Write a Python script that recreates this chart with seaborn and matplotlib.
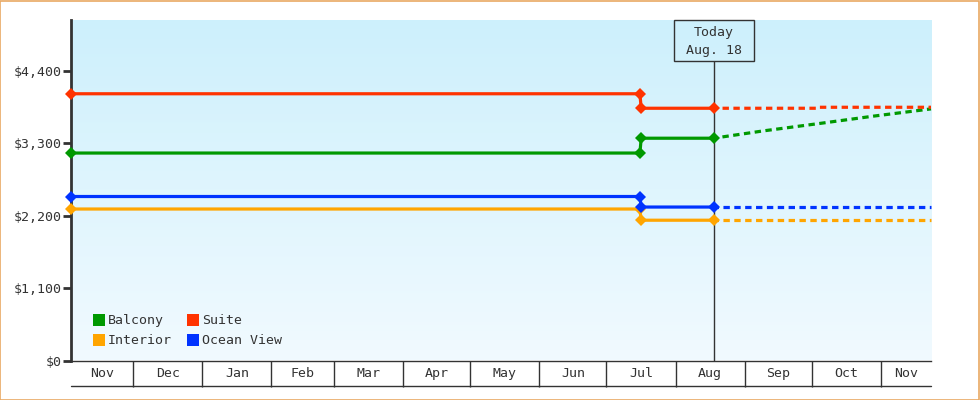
import numpy as np
import pandas as pd
import matplotlib
matplotlib.use("Agg")
import matplotlib.pyplot as plt
import matplotlib.dates as mdates
from matplotlib.lines import Line2D
from matplotlib.patches import Rectangle
import seaborn as sns

# ---------------- data ----------------
cabins = ["Balcony", "Interior", "Suite", "Ocean View"]
colors = ["#009900", "#ffa500", "#ff3300", "#0033ff"]

hist_dates = ["2024-11-03 05:00", "2025-07-16 00:00", "2025-07-16 14:00", "2025-08-18 00:00"]
hist_balcony = [3150, 3150, 3375, 3375]
hist_interior = [2300, 2300, 2130, 2130]
hist_suite = [4050, 4050, 3830, 3830]
hist_ocean = [2490, 2490, 2330, 2330]

fc_dates_balcony = ["2025-08-18 00:00", "2025-09-09 00:00", "2025-10-06 00:00", "2025-10-29 00:00", "2025-11-23 09:00"]
fc_balcony = [3375, 3485, 3606, 3712, 3820]
fc_dates_suite = ["2025-08-18 00:00", "2025-10-03 00:00", "2025-10-03 12:00", "2025-11-23 09:00"]
fc_suite = [3830, 3830, 3845, 3845]
fc_dates_flat = ["2025-08-18 00:00", "2025-11-23 09:00"]
fc_interior = [2130, 2130]
fc_ocean = [2330, 2330]

today = "2025-08-18"
today_label = "Today\nAug. 18"
x_start, x_end = "2024-11-03 05:00", "2025-11-23 09:00"
y_ticks = [0, 1100, 2200, 3300, 4400]
y_max = 5170


def to_dt(lst):
    return pd.to_datetime(lst, format="ISO8601")


# ---------------- frames ----------------
hist_vals = {"Balcony": hist_balcony, "Interior": hist_interior,
             "Suite": hist_suite, "Ocean View": hist_ocean}
hist = pd.concat([pd.DataFrame({"date": to_dt(hist_dates), "price": v, "cabin": k})
                  for k, v in hist_vals.items()], ignore_index=True)
fc = pd.concat([
    pd.DataFrame({"date": to_dt(fc_dates_balcony), "price": fc_balcony, "cabin": "Balcony"}),
    pd.DataFrame({"date": to_dt(fc_dates_flat), "price": fc_interior, "cabin": "Interior"}),
    pd.DataFrame({"date": to_dt(fc_dates_suite), "price": fc_suite, "cabin": "Suite"}),
    pd.DataFrame({"date": to_dt(fc_dates_flat), "price": fc_ocean, "cabin": "Ocean View"}),
], ignore_index=True)

palette = dict(zip(cabins, colors))

sns.set_theme(style="white")
plt.rcParams["font.family"] = ["DejaVu Sans Mono", "DejaVu Sans"]
TXT = "#333333"
FS = 9.5

fig = plt.figure(figsize=(9.8, 4.0), dpi=100)
ax = fig.add_axes([71 / 980, 1 - 360.5 / 400, 860 / 980, 340.5 / 400])

# gradient background
grad = np.linspace(0, 1, 256).reshape(-1, 1)
top = np.array([205, 240, 252]) / 255
bot = np.array([241, 250, 255]) / 255
img = top[None, None, :] * (1 - grad[:, :, None]) + bot[None, None, :] * grad[:, :, None]
ax.imshow(img, extent=[0, 1, 0, 1], transform=ax.transAxes, aspect="auto", zorder=0)

x0, x1 = pd.Timestamp(x_start), pd.Timestamp(x_end)
t = pd.Timestamp(today)
xn0, xn1, tn = mdates.date2num(x0), mdates.date2num(x1), mdates.date2num(t)
tfrac = (tn - xn0) / (xn1 - xn0)
box_h = 40.5 / 340.5
box_w = 80 / 860

# today line
ax.plot([tfrac, tfrac], [0, 1 - box_h], transform=ax.transAxes, color=TXT, lw=1, zorder=1)

lw = 2.3
sns.lineplot(data=fc, x="date", y="price", hue="cabin", hue_order=cabins, palette=palette,
             linewidth=lw, linestyle=(0.6, (2.0, 1.4)), legend=False, ax=ax, zorder=2,
             estimator=None, sort=True)
sns.lineplot(data=hist, x="date", y="price", hue="cabin", hue_order=cabins, palette=palette,
             linewidth=lw, marker="D", markersize=5.8, markeredgewidth=0, legend=False, ax=ax,
             zorder=3, estimator=None, sort=True)
for ln in ax.lines:
    ln.set_clip_on(False)
    ln.set_solid_capstyle("butt")
    ln.set_dash_capstyle("butt")

# today box
ax.add_patch(Rectangle((tfrac - box_w / 2, 1 - box_h), box_w, box_h, transform=ax.transAxes,
                       fill=False, ec=TXT, lw=1, zorder=4, clip_on=False))
ax.text(tfrac, 1 - box_h / 2 - 0.003, today_label, transform=ax.transAxes, ha="center", va="center",
        fontsize=FS, color=TXT, linespacing=1.45, zorder=5)

ax.set_xlim(x0, x1)
ax.set_ylim(0, y_max)

# y axis
ax.set_yticks(y_ticks)
ax.set_yticklabels([f"${v:,.0f}" for v in y_ticks])
ax.tick_params(axis="y", direction="out", length=5.5, width=2, color=TXT, pad=1,
               labelsize=FS, labelcolor=TXT, left=True)

# x axis: month boxes
months = pd.date_range(x0.normalize().replace(day=1), x1, freq="MS")
major = [m for m in months if x0 < m < x1]
edges = [x0] + major + [x1]
centers = [a + (b - a) / 2 for a, b in zip(edges[:-1], edges[1:])]
ax.set_xticks(major)
ax.set_xticklabels([])
ax.set_xticks(centers, minor=True)
ax.set_xticklabels([c.strftime("%b") for c in centers], minor=True)
ax.tick_params(axis="x", which="major", direction="out", length=18.5, width=1, color=TXT, bottom=True)
ax.tick_params(axis="x", which="minor", length=0, pad=5, labelsize=FS, labelcolor=TXT, bottom=True)
ax.set_xlabel("")
ax.set_ylabel("")

# bottom line of month boxes
ax.plot([0, 1], [-25 / 340.5] * 2, transform=ax.transAxes, color=TXT, lw=1, clip_on=False)

for s in ["top", "right"]:
    ax.spines[s].set_visible(False)
ax.spines["left"].set_color(TXT)
ax.spines["left"].set_linewidth(2)
ax.spines["bottom"].set_color(TXT)
ax.spines["bottom"].set_linewidth(1)
ax.spines["left"].set_zorder(2.5)

# legend
handles = [Line2D([], [], marker="s", linestyle="none", markersize=8, markeredgewidth=0,
                  color=palette[c]) for c in cabins]
leg = ax.legend(handles, cabins, ncol=2, loc="lower left", bbox_to_anchor=(22 / 860, 13 / 340.5),
                frameon=False, fontsize=FS, handlelength=0.9, handletextpad=0.25,
                columnspacing=1.1, labelspacing=0.55, borderpad=0, borderaxespad=0)
for txt in leg.get_texts():
    txt.set_color(TXT)

# outer border
fig.patches.append(Rectangle((0.0005, 0.001), 0.998, 0.997, transform=fig.transFigure,
                             fill=False, ec="#e9a964", lw=1.2))

fig.savefig("out.png", dpi=100)
